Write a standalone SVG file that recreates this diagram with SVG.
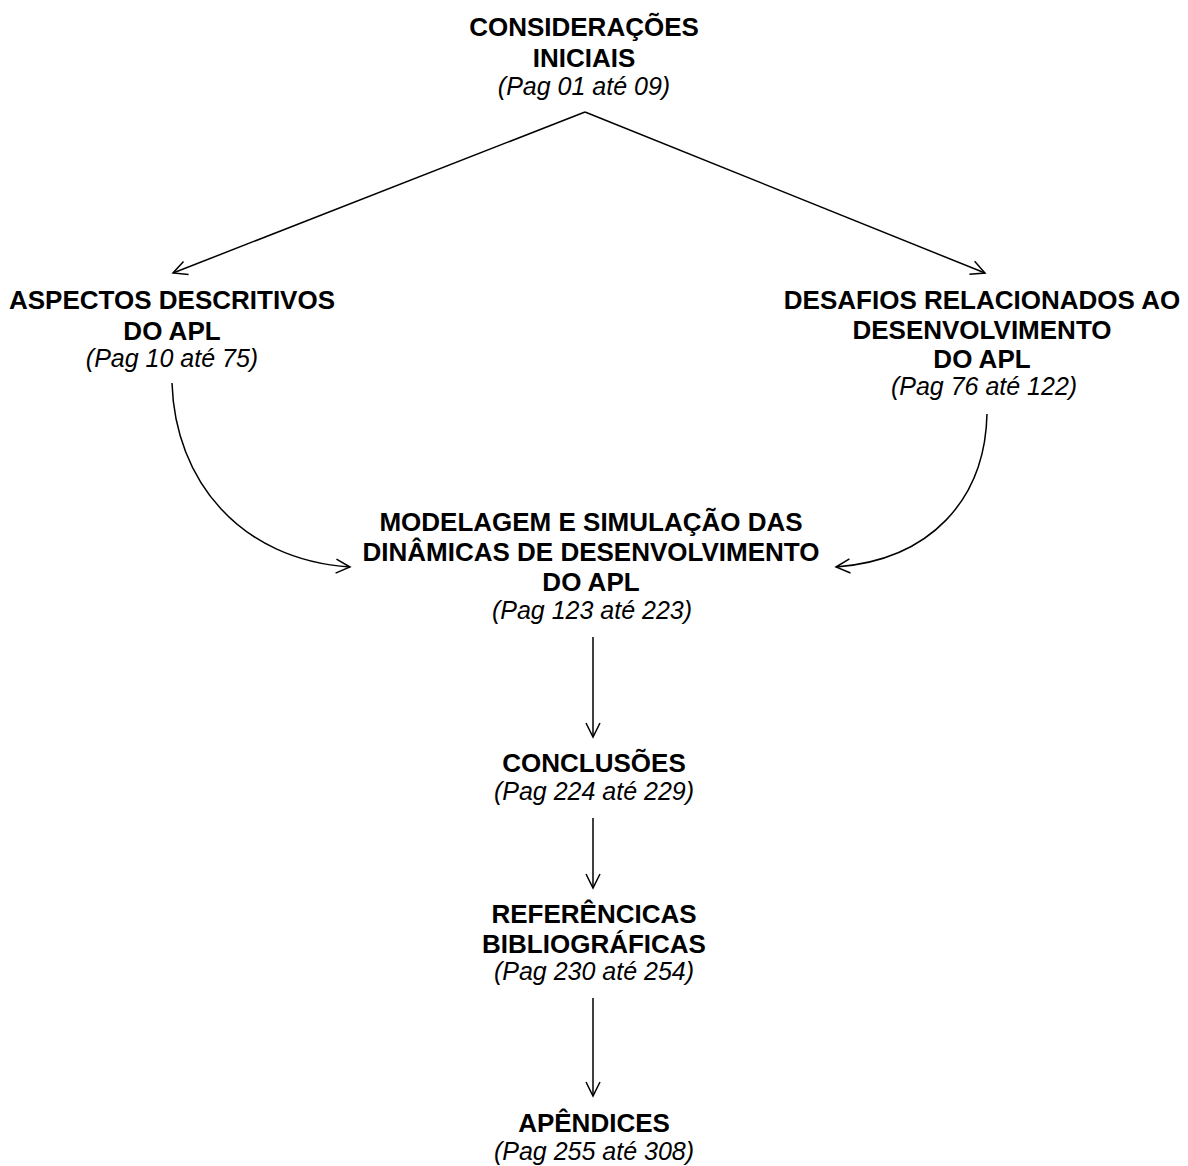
<svg xmlns="http://www.w3.org/2000/svg" width="1188" height="1166" viewBox="0 0 1188 1166">
  <style>
    .b { font-family: "Liberation Sans", Arial, sans-serif; font-weight: bold; font-size: 26px; fill: #000; text-anchor: middle; }
    .i { font-family: "Liberation Sans", Arial, sans-serif; font-style: italic; font-size: 25px; fill: #000; text-anchor: middle; }
    .edge { fill: none; stroke: #000; stroke-width: 1.5; }
  </style>
  <defs>
    <marker id="open" viewBox="0 0 18 16" refX="16" refY="8" markerWidth="18" markerHeight="16" markerUnits="userSpaceOnUse" orient="auto" overflow="visible">
      <path d="M2,1 L16,8 L2,15" fill="none" stroke="#000" stroke-width="1.5"/>
    </marker>
  </defs>
  <rect width="1188" height="1166" fill="#fff"/>

  <g id="connectors">
    <path class="edge" d="M585,112 L173,273" marker-end="url(#open)"/>
    <path class="edge" d="M585,112 L985,273" marker-end="url(#open)"/>
    <path class="edge" d="M172,383 C175,480 240,560 350,567" marker-end="url(#open)"/>
    <path class="edge" d="M987,414 C985,500 930,560 836,567" marker-end="url(#open)"/>
    <path class="edge" d="M593,637 L593,737" marker-end="url(#open)"/>
    <path class="edge" d="M593,818 L593,888" marker-end="url(#open)"/>
    <path class="edge" d="M593,998 L593,1096" marker-end="url(#open)"/>
  </g>

  <g id="consideracoes">
    <text class="b" x="584" y="36">CONSIDERAÇÕES</text>
    <text class="b" x="584" y="67">INICIAIS</text>
    <text class="i" x="584" y="95">(Pag 01 até 09)</text>
  </g>

  <g id="aspectos">
    <text class="b" x="172" y="309">ASPECTOS DESCRITIVOS</text>
    <text class="b" x="172" y="340">DO APL</text>
    <text class="i" x="172" y="367">(Pag 10 até 75)</text>
  </g>

  <g id="desafios">
    <text class="b" x="982" y="309">DESAFIOS RELACIONADOS AO</text>
    <text class="b" x="982" y="339">DESENVOLVIMENTO</text>
    <text class="b" x="982" y="368">DO APL</text>
    <text class="i" x="984" y="395">(Pag 76 até 122)</text>
  </g>

  <g id="modelagem">
    <text class="b" x="591" y="531">MODELAGEM E SIMULAÇÃO DAS</text>
    <text class="b" x="591" y="561">DINÂMICAS DE DESENVOLVIMENTO</text>
    <text class="b" x="591" y="591">DO APL</text>
    <text class="i" x="592" y="619">(Pag 123 até 223)</text>
  </g>

  <g id="conclusoes">
    <text class="b" x="594" y="772">CONCLUSÕES</text>
    <text class="i" x="594" y="800">(Pag 224 até 229)</text>
  </g>

  <g id="referencias">
    <text class="b" x="594" y="923">REFERÊNCICAS</text>
    <text class="b" x="594" y="953">BIBLIOGRÁFICAS</text>
    <text class="i" x="594" y="980">(Pag 230 até 254)</text>
  </g>

  <g id="apendices">
    <text class="b" x="594" y="1132">APÊNDICES</text>
    <text class="i" x="594" y="1160">(Pag 255 até 308)</text>
  </g>
</svg>
